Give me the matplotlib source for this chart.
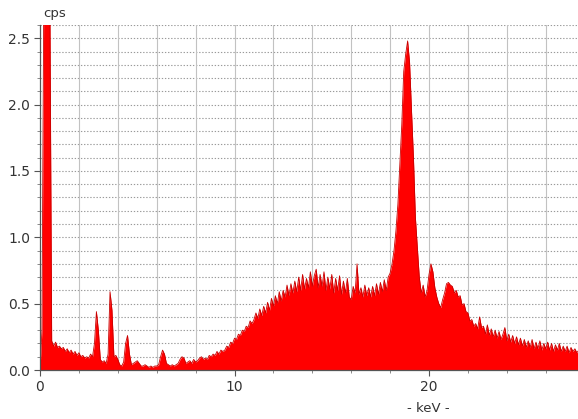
import numpy as np
import matplotlib
matplotlib.use("Agg")
import matplotlib.pyplot as plt
from matplotlib.ticker import MultipleLocator, FixedLocator

# EDX spectrum: counts per second sampled every 0.1 keV from 0.0 keV
energy_start = 0.0
energy_step = 0.1
cps = [
    0.0, 0.3, 3.0, 3.0, 3.0, 3.0, 0.22, 0.18, 0.21, 0.17,
    0.18, 0.16, 0.17, 0.14, 0.16, 0.13, 0.15, 0.12, 0.14, 0.11,
    0.13, 0.1, 0.11, 0.09, 0.1, 0.09, 0.12, 0.1, 0.2, 0.44,
    0.3, 0.08, 0.06, 0.07, 0.05, 0.12, 0.59, 0.45, 0.1, 0.11,
    0.08, 0.04, 0.03, 0.06, 0.2, 0.26, 0.12, 0.04, 0.05, 0.06,
    0.07, 0.05, 0.03, 0.03, 0.04, 0.03, 0.02, 0.03, 0.02, 0.03,
    0.03, 0.04, 0.1, 0.15, 0.12, 0.05, 0.04, 0.03, 0.04, 0.03,
    0.04, 0.05, 0.08, 0.1, 0.09, 0.05, 0.06, 0.07, 0.05, 0.08,
    0.06, 0.07, 0.09, 0.1, 0.08, 0.09, 0.08, 0.11, 0.1, 0.12,
    0.11, 0.14, 0.12, 0.15, 0.14, 0.15, 0.18, 0.17, 0.21, 0.2,
    0.24, 0.23, 0.27, 0.26, 0.3, 0.29, 0.33, 0.32, 0.37, 0.35,
    0.38, 0.43, 0.39, 0.46, 0.41, 0.48, 0.43, 0.51, 0.45, 0.54,
    0.48, 0.56, 0.5, 0.59, 0.52, 0.6, 0.55, 0.64, 0.56, 0.65,
    0.58, 0.67, 0.59, 0.7, 0.6, 0.72, 0.61, 0.69, 0.62, 0.74,
    0.63, 0.71, 0.76, 0.62, 0.72, 0.63, 0.74, 0.6, 0.7, 0.61,
    0.72, 0.58, 0.69, 0.6, 0.71, 0.57, 0.67, 0.58, 0.69, 0.55,
    0.53, 0.63, 0.58, 0.8, 0.57, 0.62, 0.55, 0.64, 0.56, 0.62,
    0.55, 0.63, 0.56, 0.65, 0.57, 0.66, 0.59, 0.68, 0.6, 0.7,
    0.73, 0.8, 0.9, 1.05, 1.25, 1.55, 1.85, 2.25, 2.38, 2.48,
    2.32, 1.95, 1.6, 1.15, 0.92, 0.7, 0.58, 0.64, 0.55, 0.6,
    0.72, 0.8, 0.74, 0.62, 0.55, 0.5, 0.47, 0.53, 0.58, 0.65,
    0.66, 0.64, 0.63, 0.58, 0.6, 0.55, 0.56, 0.49, 0.5, 0.44,
    0.43, 0.37, 0.38, 0.33, 0.35, 0.31, 0.4, 0.32, 0.33, 0.27,
    0.34, 0.26, 0.31, 0.25, 0.3, 0.24, 0.29, 0.23, 0.27, 0.32,
    0.22, 0.27, 0.21, 0.26, 0.2, 0.25, 0.19, 0.24, 0.18, 0.23,
    0.17, 0.22, 0.17, 0.23, 0.16, 0.21, 0.16, 0.22, 0.15, 0.2,
    0.16, 0.21, 0.15, 0.2, 0.14, 0.19, 0.15, 0.2, 0.14, 0.18,
    0.14, 0.18, 0.13, 0.17, 0.14, 0.16, 0.13, 0.15,
]
x_tick_labels = ["0", "10", "20"]
y_tick_labels = ["0.0", "0.5", "1.0", "1.5", "2.0", "2.5"]

energy = energy_start + energy_step * np.arange(len(cps))
counts = np.array(cps)

fig = plt.figure(figsize=(5.78, 4.19), dpi=100)
ax = fig.add_axes([40 / 578, 49 / 419, 538 / 578, 345 / 419])

ax.set_xlim(0, 27.66)
ax.set_ylim(0, 2.6)

# grid: fine dotted rows every 0.1 cps, columns every 2 keV
for yv in np.arange(0.1, 2.61, 0.1):
    ax.axhline(yv, color="#9a9a9a", lw=0.8, ls=(0, (1.2, 1.6)), zorder=0)
for xv in np.arange(2, 27.7, 2):
    ax.axvline(xv, color="#c2c2c2", lw=0.8, zorder=0)

ax.fill_between(energy, 0, counts, color="#ff0000", lw=0, zorder=2)
ax.plot(energy, counts, color="#c80000", lw=0.6, zorder=3)

ax.xaxis.set_major_locator(FixedLocator([0, 10, 20]))
ax.set_xticklabels(x_tick_labels)
ax.xaxis.set_minor_locator(MultipleLocator(2))
ax.yaxis.set_major_locator(FixedLocator([0, 0.5, 1.0, 1.5, 2.0, 2.5]))
ax.set_yticklabels(y_tick_labels)
ax.yaxis.set_minor_locator(MultipleLocator(0.1))

ax.tick_params(axis="both", which="major", length=4, width=0.8,
               color="#555555", labelsize=10, labelcolor="#333333", pad=3)
ax.tick_params(axis="both", which="minor", length=2.5, width=0.6, color="#777777")

for side in ("top", "right"):
    ax.spines[side].set_visible(False)
for side in ("left", "bottom"):
    ax.spines[side].set_color("#555555")
    ax.spines[side].set_linewidth(0.9)
    ax.spines[side].set_zorder(4)

fig.text(43 / 578, 1 - 14 / 419, "cps", fontsize=9.5, color="#333333",
         ha="left", va="center")
fig.text(428 / 578, 1 - 408 / 419, "- keV -", fontsize=9.5, color="#333333",
         ha="center", va="center")

fig.savefig("out.png", dpi=100)
